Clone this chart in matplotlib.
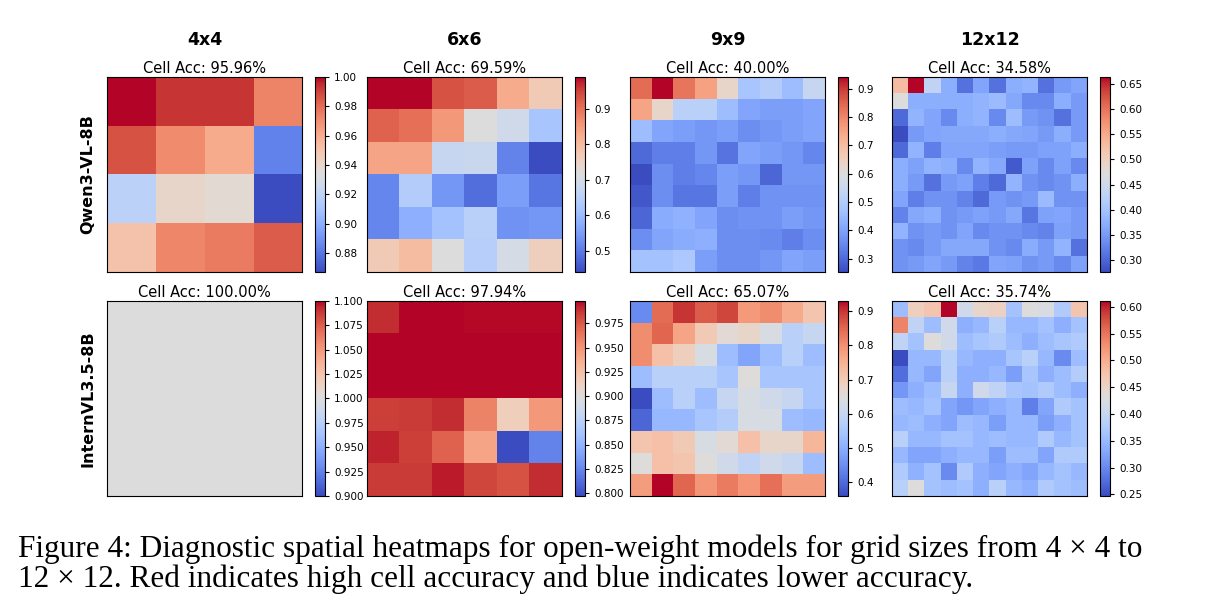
import numpy as np
import matplotlib
matplotlib.use("Agg")
import matplotlib.pyplot as plt

# column / row labels
grid_names = ["4x4", "6x6", "9x9", "12x12"]
model_names = ["Qwen3-VL-8B", "InternVL3.5-8B"]

qwen_acc = ["95.96%", "69.59%", "40.00%", "34.58%"]
intern_acc = ["100.00%", "97.94%", "65.07%", "35.74%"]

# per-cell accuracy, Qwen3-VL-8B
qwen_4 = [
    [1.000, 0.993, 0.993, 0.973],
    [0.987, 0.971, 0.960, 0.884],
    [0.918, 0.940, 0.937, 0.867],
    [0.951, 0.972, 0.976, 0.984],
]
qwen_6 = [
    [0.990, 0.990, 0.935, 0.924, 0.825, 0.770],
    [0.919, 0.902, 0.853, 0.715, 0.688, 0.622],
    [0.836, 0.836, 0.671, 0.677, 0.512, 0.440],
    [0.517, 0.638, 0.539, 0.484, 0.550, 0.495],
    [0.517, 0.578, 0.616, 0.649, 0.534, 0.539],
    [0.770, 0.798, 0.715, 0.644, 0.699, 0.759],
]
qwen_9 = [
    [0.838, 0.941, 0.824, 0.755, 0.631, 0.480, 0.501, 0.459, 0.542],
    [0.748, 0.631, 0.514, 0.514, 0.459, 0.404, 0.391, 0.391, 0.404],
    [0.459, 0.404, 0.391, 0.377, 0.391, 0.363, 0.377, 0.391, 0.404],
    [0.301, 0.336, 0.336, 0.377, 0.315, 0.404, 0.391, 0.377, 0.349],
    [0.253, 0.363, 0.336, 0.349, 0.391, 0.377, 0.294, 0.377, 0.377],
    [0.274, 0.363, 0.322, 0.322, 0.391, 0.336, 0.370, 0.370, 0.370],
    [0.294, 0.418, 0.432, 0.404, 0.363, 0.370, 0.370, 0.391, 0.377],
    [0.363, 0.404, 0.418, 0.425, 0.363, 0.363, 0.356, 0.336, 0.363],
    [0.473, 0.473, 0.487, 0.391, 0.363, 0.363, 0.377, 0.404, 0.391],
]
qwen_12 = [
    [0.528, 0.663, 0.432, 0.373, 0.311, 0.362, 0.311, 0.373, 0.381, 0.311, 0.350, 0.362],
    [0.470, 0.373, 0.373, 0.373, 0.373, 0.381, 0.389, 0.365, 0.334, 0.334, 0.373, 0.350],
    [0.304, 0.381, 0.362, 0.334, 0.373, 0.381, 0.334, 0.392, 0.350, 0.342, 0.311, 0.350],
    [0.277, 0.350, 0.362, 0.365, 0.365, 0.365, 0.373, 0.365, 0.362, 0.350, 0.373, 0.350],
    [0.304, 0.381, 0.323, 0.362, 0.362, 0.362, 0.354, 0.350, 0.350, 0.358, 0.358, 0.373],
    [0.373, 0.358, 0.381, 0.373, 0.334, 0.381, 0.365, 0.290, 0.358, 0.334, 0.358, 0.334],
    [0.373, 0.350, 0.311, 0.350, 0.358, 0.323, 0.304, 0.381, 0.342, 0.334, 0.342, 0.373],
    [0.362, 0.323, 0.342, 0.342, 0.327, 0.304, 0.350, 0.342, 0.350, 0.389, 0.342, 0.342],
    [0.327, 0.365, 0.373, 0.342, 0.350, 0.358, 0.350, 0.365, 0.315, 0.358, 0.362, 0.350],
    [0.381, 0.342, 0.350, 0.342, 0.362, 0.334, 0.342, 0.342, 0.334, 0.327, 0.358, 0.350],
    [0.342, 0.334, 0.350, 0.365, 0.365, 0.365, 0.342, 0.334, 0.369, 0.350, 0.381, 0.311],
    [0.342, 0.350, 0.362, 0.350, 0.327, 0.319, 0.362, 0.358, 0.342, 0.350, 0.334, 0.358],
]

# per-cell accuracy, InternVL3.5-8B
intern_4 = [
    [1.0, 1.0, 1.0, 1.0],
    [1.0, 1.0, 1.0, 1.0],
    [1.0, 1.0, 1.0, 1.0],
    [1.0, 1.0, 1.0, 1.0],
]
intern_6 = [
    [0.990, 0.998, 0.998, 0.997, 0.997, 0.997],
    [0.998, 0.998, 0.998, 0.998, 0.998, 0.998],
    [0.998, 0.998, 0.998, 0.998, 0.998, 0.998],
    [0.984, 0.986, 0.990, 0.958, 0.914, 0.948],
    [0.992, 0.984, 0.972, 0.942, 0.797, 0.823],
    [0.986, 0.986, 0.994, 0.982, 0.978, 0.990],
]
intern_9 = [
    [0.445, 0.844, 0.901, 0.861, 0.884, 0.787, 0.804, 0.759, 0.713],
    [0.804, 0.850, 0.770, 0.702, 0.656, 0.673, 0.633, 0.576, 0.599],
    [0.804, 0.724, 0.690, 0.633, 0.530, 0.485, 0.530, 0.576, 0.530],
    [0.530, 0.576, 0.576, 0.576, 0.547, 0.645, 0.547, 0.547, 0.547],
    [0.359, 0.530, 0.576, 0.530, 0.599, 0.633, 0.616, 0.599, 0.547],
    [0.393, 0.519, 0.519, 0.547, 0.565, 0.633, 0.633, 0.530, 0.519],
    [0.713, 0.724, 0.702, 0.633, 0.656, 0.724, 0.673, 0.673, 0.742],
    [0.645, 0.724, 0.713, 0.645, 0.616, 0.587, 0.616, 0.599, 0.530],
    [0.782, 0.930, 0.850, 0.793, 0.827, 0.793, 0.839, 0.782, 0.782],
]
intern_12 = [
    [0.356, 0.458, 0.473, 0.611, 0.411, 0.447, 0.454, 0.363, 0.429, 0.422, 0.374, 0.473],
    [0.538, 0.393, 0.356, 0.411, 0.338, 0.349, 0.385, 0.349, 0.349, 0.363, 0.338, 0.363],
    [0.393, 0.363, 0.429, 0.411, 0.356, 0.367, 0.374, 0.356, 0.338, 0.356, 0.367, 0.374],
    [0.247, 0.349, 0.349, 0.385, 0.349, 0.338, 0.338, 0.367, 0.385, 0.349, 0.302, 0.356],
    [0.276, 0.349, 0.327, 0.385, 0.338, 0.338, 0.349, 0.320, 0.367, 0.338, 0.356, 0.378],
    [0.313, 0.338, 0.356, 0.400, 0.338, 0.411, 0.393, 0.367, 0.363, 0.374, 0.356, 0.338],
    [0.356, 0.349, 0.363, 0.327, 0.313, 0.327, 0.338, 0.349, 0.291, 0.327, 0.374, 0.363],
    [0.349, 0.356, 0.338, 0.327, 0.356, 0.349, 0.320, 0.349, 0.349, 0.320, 0.338, 0.363],
    [0.385, 0.349, 0.349, 0.363, 0.363, 0.349, 0.356, 0.349, 0.349, 0.374, 0.349, 0.363],
    [0.349, 0.327, 0.327, 0.338, 0.349, 0.349, 0.320, 0.356, 0.356, 0.327, 0.374, 0.374],
    [0.374, 0.342, 0.363, 0.302, 0.374, 0.338, 0.327, 0.338, 0.327, 0.349, 0.363, 0.349],
    [0.385, 0.429, 0.363, 0.356, 0.363, 0.338, 0.385, 0.349, 0.338, 0.374, 0.363, 0.356],
]

grids = [[qwen_4, qwen_6, qwen_9, qwen_12],
         [intern_4, intern_6, intern_9, intern_12]]
accs = [qwen_acc, intern_acc]

caption_1 = "Figure 4: Diagnostic spatial heatmaps for open-weight models for grid sizes from 4 \u00d7 4 to"
caption_2 = "12 \u00d7 12. Red indicates high cell accuracy and blue indicates lower accuracy."

W, H = 1220, 614
fig = plt.figure(figsize=(W / 100, H / 100), dpi=100)

def px_axes(x, y, w, h):
    # pixel box (top-left origin) -> figure fraction
    return fig.add_axes([x / W, 1 - (y + h) / H, w / W, h / H])

lefts = [107, 367, 630, 892]
tops = [77, 301]
size = 195

for r in range(2):
    for c in range(4):
        ax = px_axes(lefts[c], tops[r], size, size)
        data = np.array(grids[r][c])
        if data.max() == data.min():
            # constant grid: centre it in the colour range
            im = ax.imshow(data, cmap="coolwarm", vmin=0.9, vmax=1.1,
                           interpolation="nearest", aspect="auto")
        else:
            im = ax.imshow(data, cmap="coolwarm", interpolation="nearest", aspect="auto")
        ax.set_xticks([])
        ax.set_yticks([])
        ax.set_title("Cell Acc: " + accs[r][c], fontsize=10.5, pad=3)

        cax = px_axes(lefts[c] + 208, tops[r], 10, size)
        cb = fig.colorbar(im, cax=cax)
        cb.ax.tick_params(labelsize=7.5, length=3, width=0.8)
        cb.outline.set_linewidth(0.8)

        if r == 0:
            fig.text((lefts[c] + size / 2) / W, 1 - 40 / H, grid_names[c],
                     ha="center", va="center", fontsize=12.5, fontweight="bold")
        if c == 0:
            fig.text(88 / W, 1 - (tops[r] + size / 2) / H, model_names[r],
                     ha="center", va="center", rotation=90,
                     fontsize=11.5, fontweight="bold")

#Caption, sized so the first line fills the page width
cap_font = ["DejaVu Serif Condensed", "Liberation Serif", "DejaVu Serif"]
t1 = fig.text(18 / W, 1 - 557 / H, caption_1, ha="left", va="baseline",
              fontsize=20, family=cap_font)
t2 = fig.text(18 / W, 1 - 587 / H, caption_2, ha="left", va="baseline",
              fontsize=20, family=cap_font)
renderer = fig.canvas.get_renderer()
w1 = t1.get_window_extent(renderer).width
fs = min(20 * 1190.0 / w1, 22.5)
t1.set_fontsize(fs)
t2.set_fontsize(fs)

fig.savefig("out.png", dpi=100)
